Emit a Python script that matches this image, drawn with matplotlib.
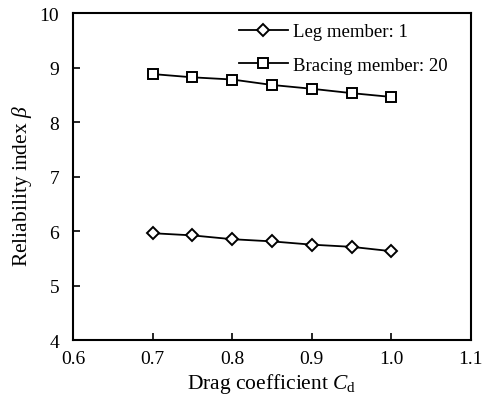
import matplotlib
matplotlib.use("Agg")
import matplotlib.pyplot as plt

cd = [0.70, 0.75, 0.80, 0.85, 0.90, 0.95, 1.00]
leg_member = [5.96, 5.92, 5.85, 5.81, 5.75, 5.71, 5.63]
bracing_member = [8.88, 8.82, 8.78, 8.68, 8.61, 8.53, 8.46]
xticks = [0.6, 0.7, 0.8, 0.9, 1.0, 1.1]
yticks = [4, 5, 6, 7, 8, 9, 10]

plt.rcParams['font.family'] = ['Liberation Serif', 'DejaVu Serif']
plt.rcParams['mathtext.fontset'] = 'custom'
plt.rcParams['mathtext.it'] = 'Liberation Serif:italic'
plt.rcParams['mathtext.rm'] = 'Liberation Serif'

fig = plt.figure(figsize=(4.82, 4.06), dpi=100)
ax = fig.add_axes([0.1515, 0.160, 0.8255, 0.8055])

ax.plot(cd, leg_member, color='black', lw=1.3, marker='D', ms=6.5,
        mfc='white', mec='black', mew=1.4, label='Leg member: 1')
ax.plot(cd, bracing_member, color='black', lw=1.3, marker='s', ms=7.8,
        mfc='white', mec='black', mew=1.4, label='Bracing member: 20')

ax.set_xlim(0.6, 1.1)
ax.set_ylim(4, 10)
ax.set_xticks(xticks)
ax.set_xticklabels([f"{v:.1f}" for v in xticks])
ax.set_yticks(yticks)
ax.tick_params(direction='in', length=5, width=1.2, labelsize=14)
ax.tick_params(axis='x', pad=7)
ax.tick_params(axis='y', pad=10)
for s in ax.spines.values():
    s.set_linewidth(1.5)

ax.set_xlabel('Drag coefficient $C_\\mathrm{d}$', fontsize=15.5, labelpad=3)
ax.set_ylabel('Reliability index $\\beta$', fontsize=15.5)
ax.yaxis.set_label_coords(-0.098, 0.475)

ax.legend(loc='upper left', bbox_to_anchor=(0.375, 1.02), frameon=False,
          fontsize=13.5, handlelength=2.6, labelspacing=0.85, handletextpad=0.25)

fig.savefig('out.png', dpi=100)
